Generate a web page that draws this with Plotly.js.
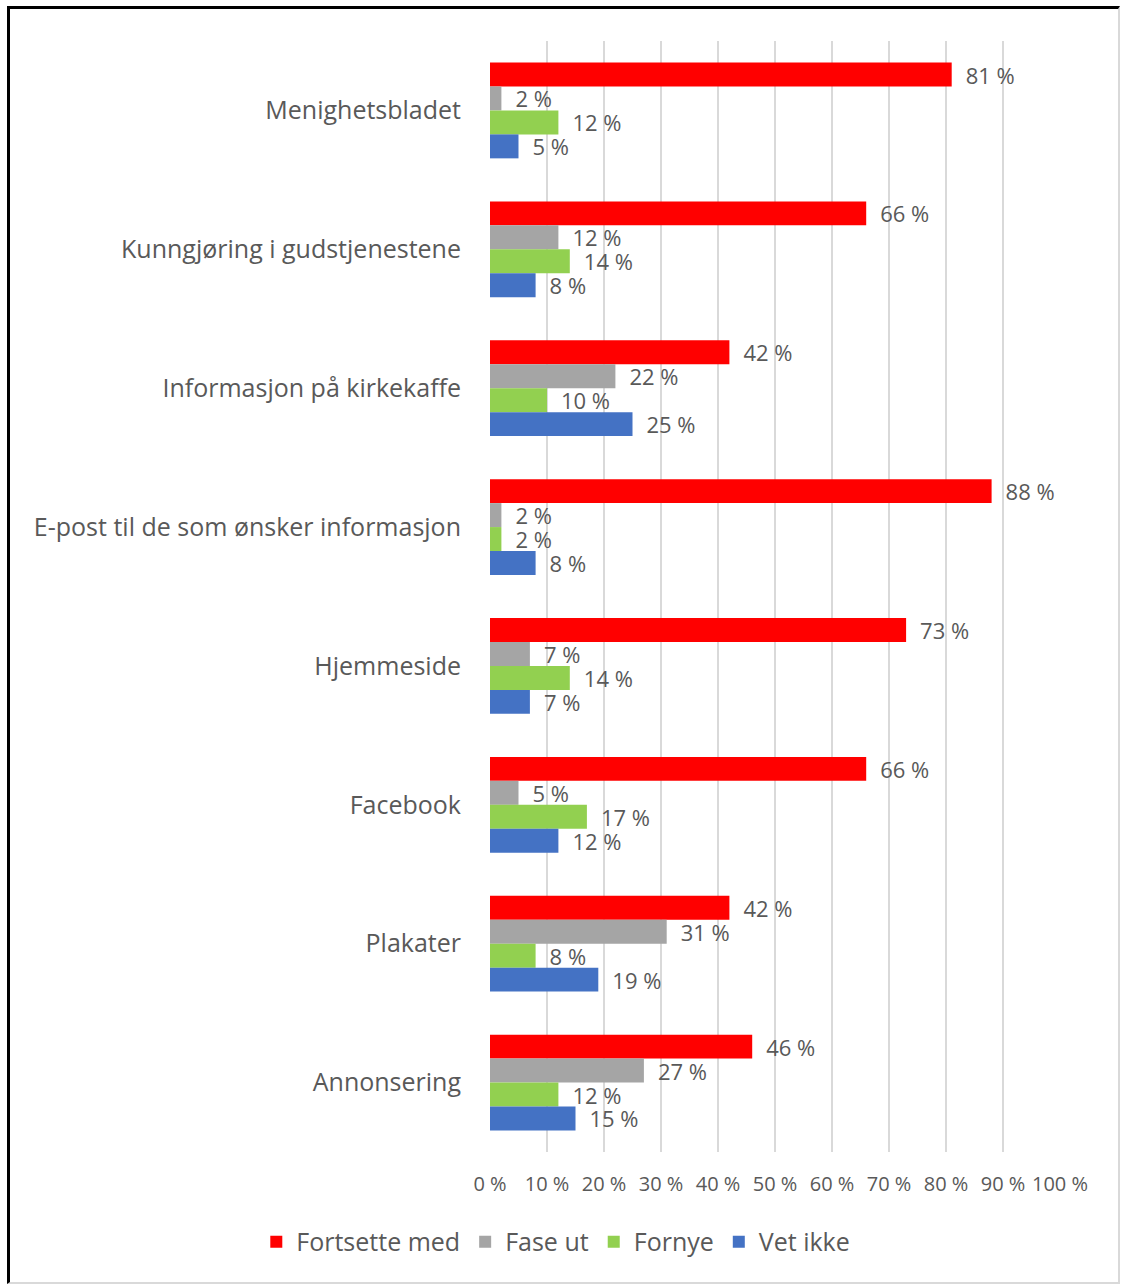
<!DOCTYPE html>
<html>
<head>
<meta charset="utf-8">
<script src="https://cdn.plot.ly/plotly-3.0.1.min.js"></script>
<style>
  html, body { margin: 0; padding: 0; background: #fff; }
  #chart { position: absolute; left: 0; top: 0; width: 1121px; height: 1284px; }
  #frame { position: absolute; left: 7px; top: 6px; width: 1113px; height: 1278px; box-sizing: border-box;
           border-top: 3px solid #000; border-left: 3px solid #000;
           border-right: 2px solid #d9d9d9; border-bottom: 2px solid #d9d9d9; pointer-events: none; }
</style>
</head>
<body>
<div id="chart"></div>
<div id="frame"></div>
<script>
const categories = [
  "Menighetsbladet",
  "Kunngjøring i gudstjenestene",
  "Informasjon på kirkekaffe",
  "E-post til de som ønsker informasjon",
  "Hjemmeside",
  "Facebook",
  "Plakater",
  "Annonsering"
];
const seriesNames = ["Fortsette med", "Fase ut", "Fornye", "Vet ikke"];
const fortsetteMed = [81, 66, 42, 88, 73, 66, 42, 46];
const faseUt      = [2, 12, 22, 2, 7, 5, 31, 27];
const fornye      = [12, 14, 10, 2, 14, 17, 8, 12];
const vetIkke     = [5, 8, 25, 8, 7, 12, 19, 15];
const tickValues = [0, 10, 20, 30, 40, 50, 60, 70, 80, 90, 100];
const tickLabels = ["0 %", "10 %", "20 %", "30 %", "40 %", "50 %", "60 %", "70 %", "80 %", "90 %", "100 %"];

const colors = ["#ff0000", "#a5a5a5", "#92d050", "#4472c4"];
const allSeries = [fortsetteMed, faseUt, fornye, vetIkke];

const font = "Open Sans, Lato, sans-serif";
const grey = "#595959";

const traces = allSeries.map((vals, i) => ({
  type: "bar",
  orientation: "h",
  name: seriesNames[i],
  y: categories,
  x: vals,
  marker: { color: colors[i] },
  text: vals.map(v => "\u2002" + v + " %"),
  textposition: "outside",
  constraintext: "none",
  cliponaxis: false,
  textfont: { family: font, size: 22, color: grey },
  hoverinfo: "skip"
}));

const layout = {
  width: 1121,
  height: 1284,
  paper_bgcolor: "rgba(0,0,0,0)",
  plot_bgcolor: "rgba(0,0,0,0)",
  margin: { l: 490, r: 61, t: 41, b: 132, autoexpand: false },
  barmode: "group",
  bargap: 0.31,
  bargroupgap: 0,
  font: { family: font, color: grey },
  xaxis: {
    range: [0, 100],
    tickvals: tickValues,
    ticktext: tickLabels,
    showgrid: true,
    gridcolor: "#d9d9d9",
    gridwidth: 2,
    zeroline: false,
    showline: false,
    ticks: "outside",
    ticklen: 14,
    tickcolor: "rgba(0,0,0,0)",
    tickfont: { family: font, size: 20, color: grey },
    fixedrange: true
  },
  yaxis: {
    autorange: "reversed",
    showgrid: false,
    zeroline: false,
    showline: false,
    ticks: "outside",
    ticklen: 23,
    tickcolor: "rgba(0,0,0,0)",
    tickfont: { family: font, size: 25, color: grey },
    fixedrange: true
  },
  legend: {
    orientation: "h",
    x: -0.41,
    xanchor: "left",
    y: -0.081,
    yanchor: "middle",
    font: { family: font, size: 25, color: grey },
    itemwidth: 30,
    traceorder: "normal"
  },
  showlegend: true
};

Plotly.newPlot("chart", traces, layout, { displayModeBar: false, staticPlot: true });
</script>
</body>
</html>
